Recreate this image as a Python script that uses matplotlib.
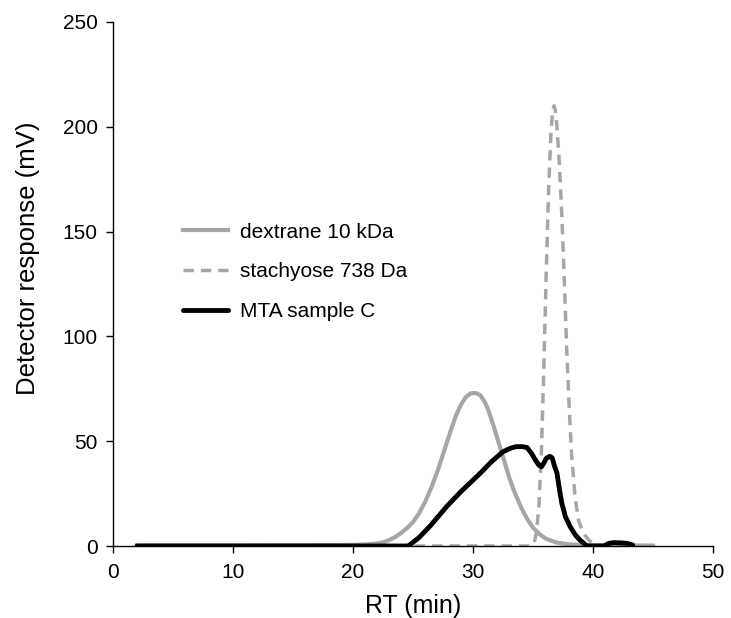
import matplotlib
matplotlib.use("Agg")
import matplotlib.pyplot as plt

plt.rcParams['font.family'] = ['Liberation Sans', 'DejaVu Sans']

# Retention time (min) and detector response (mV) for each trace
dextrane_rt = [2, 10, 20, 21, 22, 22.5, 23, 23.5, 24, 24.5, 25, 25.5, 26, 26.5, 27, 27.4,
               27.8, 28.2, 28.6, 29, 29.4, 29.8, 30.2, 30.6, 31.0, 31.3, 31.7, 32.1, 32.5,
               33, 33.4, 34, 34.5, 35, 35.5, 36.1, 37, 38, 39, 41, 45]
dextrane_mv = [0.3, 0.3, 0.5, 0.7, 1.2, 1.8, 2.8, 4.2, 6.2, 8.5, 11.5, 15.5, 21, 27.5,
               35, 42, 49, 56, 62.5, 67.5, 71, 72.8, 73, 72, 68.5, 64.5, 57.5, 50, 42.5,
               33, 26.5, 18.5, 13, 8.8, 5.8, 3.4, 1.6, 0.8, 0.5, 0.3, 0.2]

stachyose_rt = [2, 34.8, 35.1, 35.3, 35.5, 35.7, 35.9, 36.1, 36.3, 36.5, 36.65, 36.75,
                36.85, 37.0, 37.2, 37.4, 37.6, 37.8, 38.0, 38.2, 38.5, 38.8, 39.2, 39.7,
                40.3, 41, 45]
stachyose_mv = [0, 0, 1.5, 7, 20, 45, 85, 130, 170, 198, 208, 210,
                208, 200, 182, 158, 128, 95, 68, 45, 23.5, 12, 6, 2.5,
                0.8, 0.3, 0]

mta_rt = [2, 24.6, 25.5, 26.5, 27.8, 29, 30.6, 31.5, 32.5, 33.2, 33.6, 34.1, 34.5,
          34.9, 35.2, 35.5, 35.7, 35.9, 36.1, 36.4, 36.6, 36.8, 37.0, 37.2, 37.4, 37.7,
          38.1, 38.5, 38.9, 39.5, 40.9, 41.3, 41.7, 42.3, 42.8, 43.3]
mta_mv = [0, 0, 4, 10, 18.8, 26, 34.7, 40, 45, 46.8, 47.4, 47.4, 47,
          44, 41, 38.5, 37.8, 39.5, 41.8, 42.8, 42, 38, 34.7, 27, 20.4, 14,
          9.2, 5.5, 2.9, 0, 0, 1.2, 1.6, 1.5, 1.3, 0.5]

x_ticks = [0, 10, 20, 30, 40, 50]
y_ticks = [0, 50, 100, 150, 200, 250]

fig = plt.figure(figsize=(7.31, 6.18), dpi=100)
ax = fig.add_axes([0.1546, 0.1165, 0.8208, 0.848])

grey = '#a6a6a6'
ax.plot(dextrane_rt, dextrane_mv, color=grey, lw=3, solid_joinstyle='round',
        label='dextrane 10 kDa')
ax.plot(stachyose_rt, stachyose_mv, color=grey, lw=2.5, dashes=(3, 2),
        label='stachyose 738 Da')
ax.plot(mta_rt, mta_mv, color='black', lw=3.5, solid_capstyle='round',
        solid_joinstyle='round', label='MTA sample C')

ax.set_xlim(0, 50)
ax.set_ylim(0, 250)
ax.set_xticks(x_ticks)
ax.set_yticks(y_ticks)
for s in ('top', 'right'):
    ax.spines[s].set_visible(False)
for s in ('left', 'bottom'):
    ax.spines[s].set_linewidth(1.0)
ax.tick_params(direction='out', length=5, width=1, labelsize=15)
ax.tick_params(axis='x', pad=7)
ax.tick_params(axis='y', pad=6)
ax.set_xlabel('RT (min)', fontsize=18, labelpad=9)
ax.set_ylabel('Detector response (mV)', fontsize=18.5, labelpad=16)
ax.yaxis.label.set_y(0.55)

leg = ax.legend(loc='center left', bbox_to_anchor=(0.085, 0.523), frameon=False,
                fontsize=15, handlelength=2.15, handletextpad=0.6, labelspacing=1.0)

fig.savefig('out.png', dpi=100)
